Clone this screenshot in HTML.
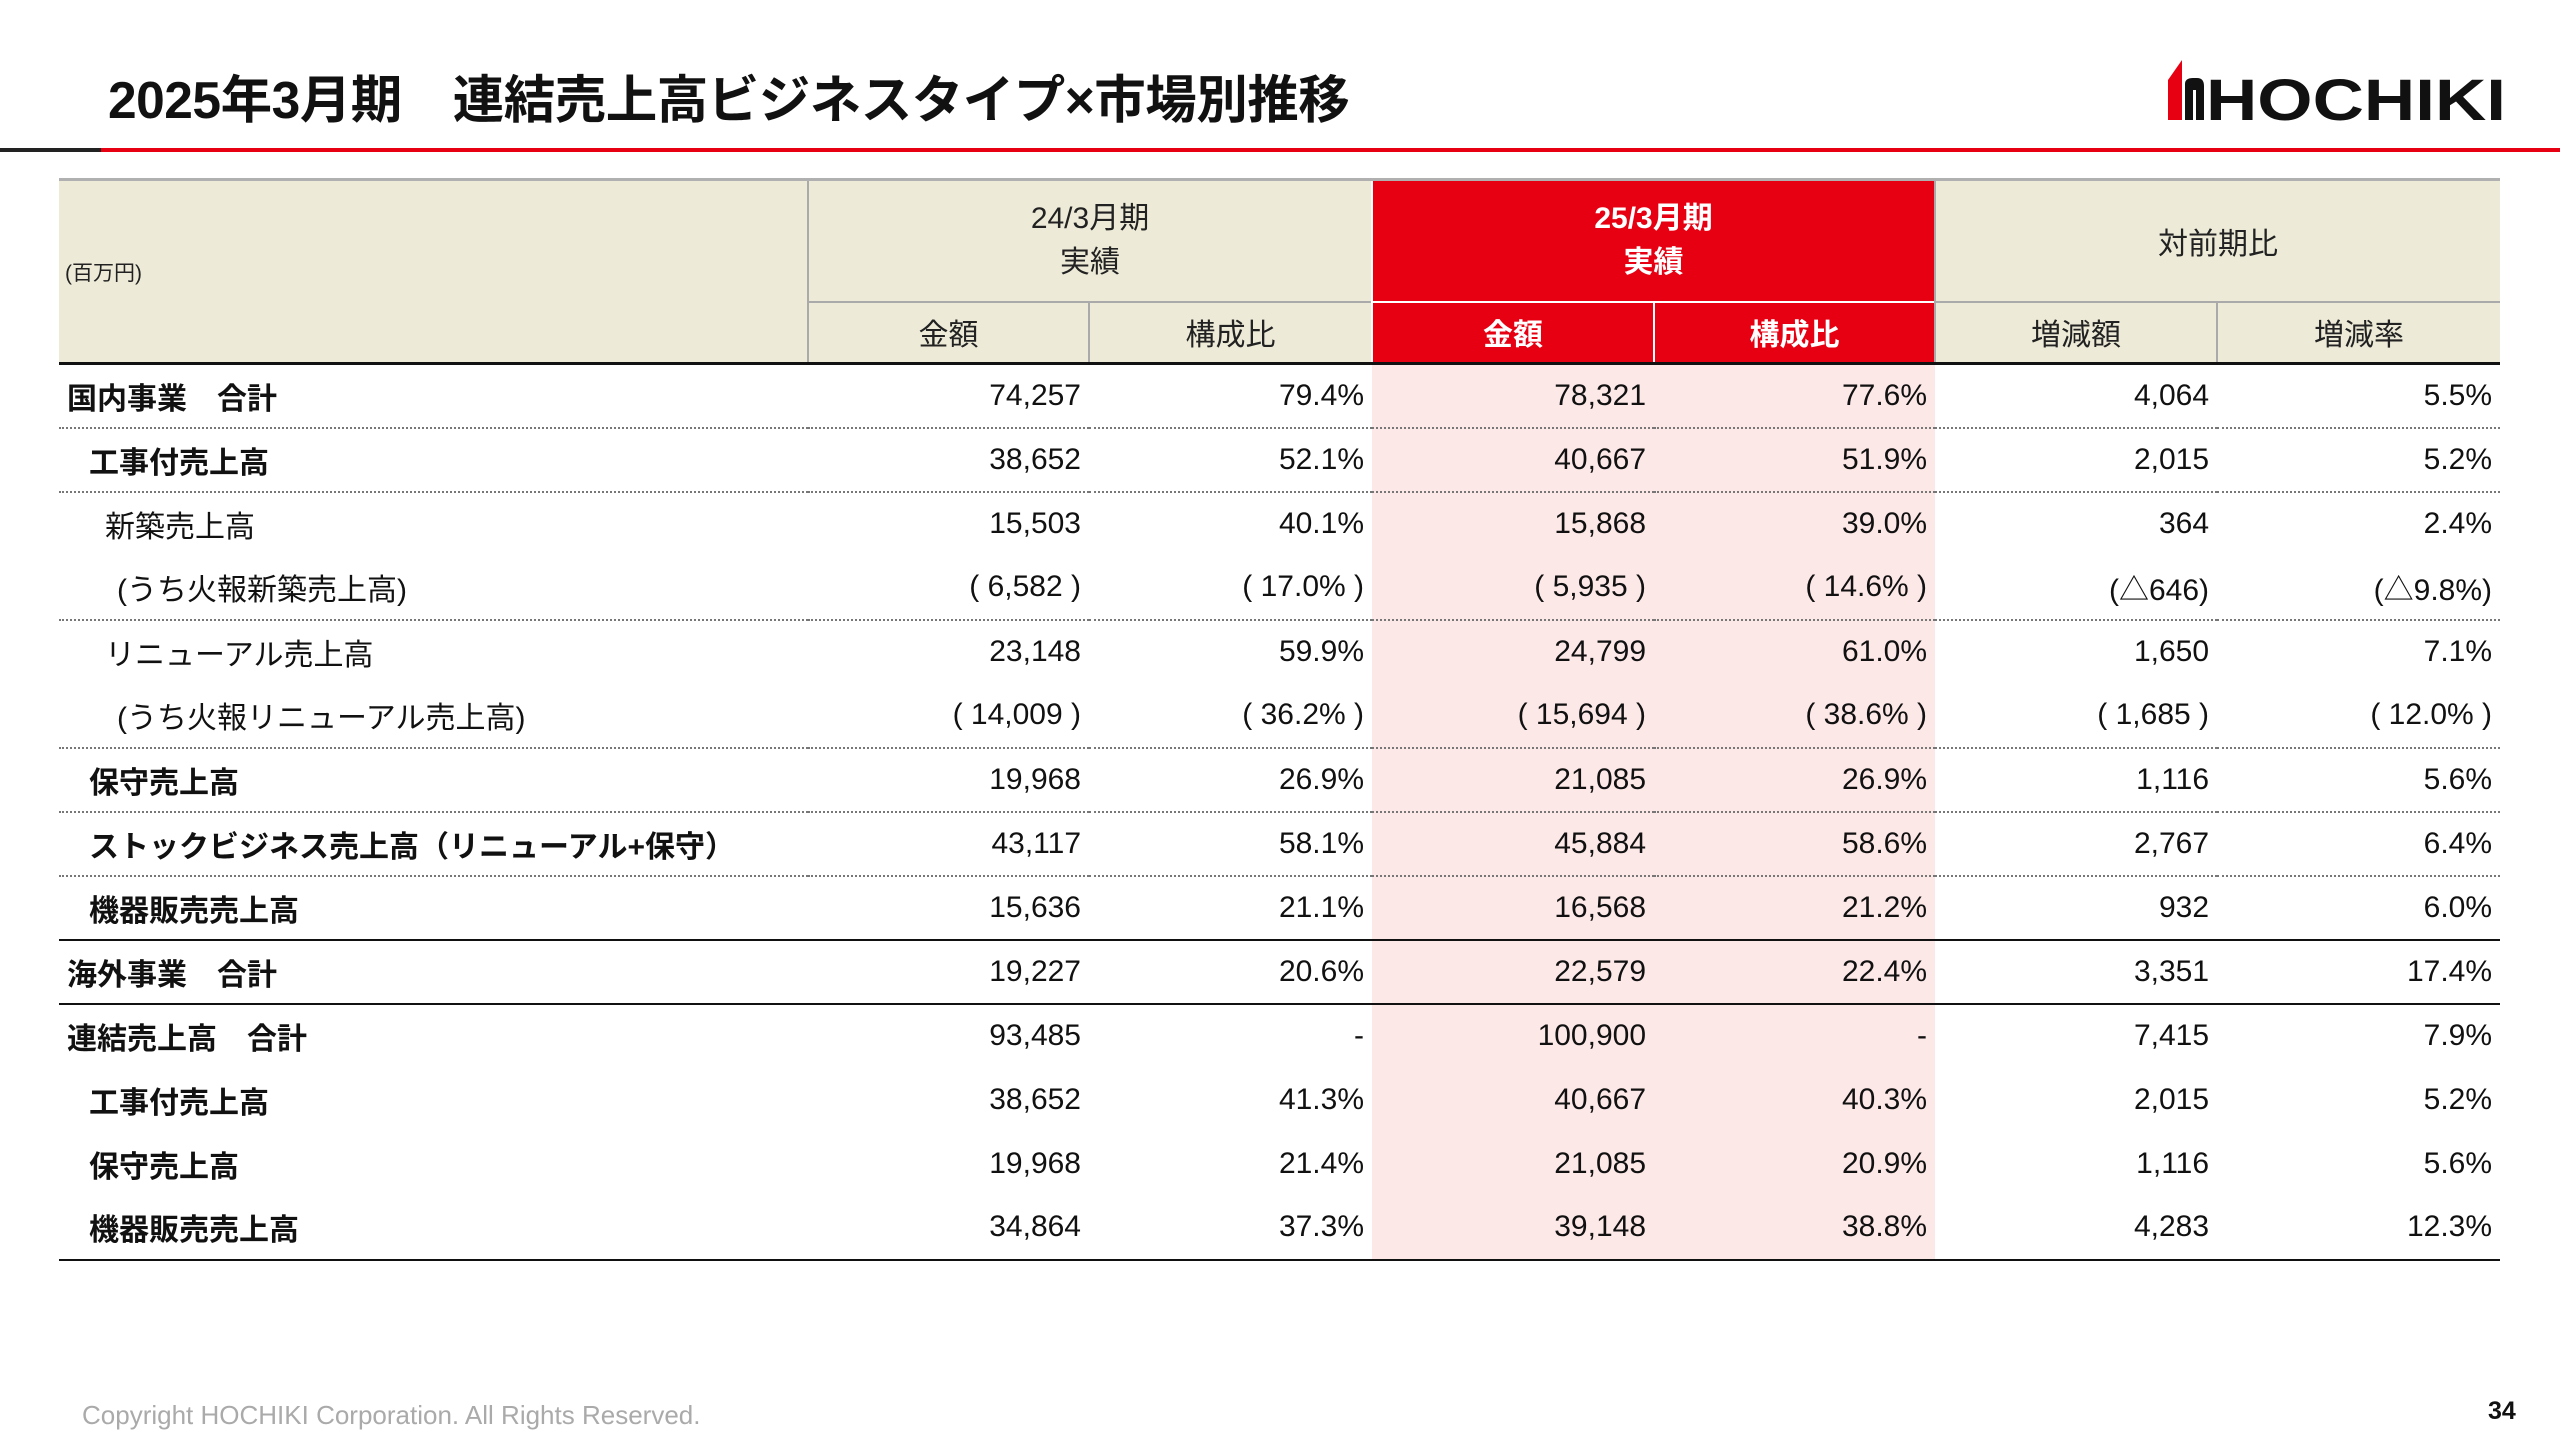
<!DOCTYPE html>
<html><head><meta charset="utf-8"><style>
*{margin:0;padding:0;box-sizing:border-box}
body{width:2560px;height:1440px;background:#fff;position:relative;overflow:hidden;font-family:"Liberation Sans","Noto Sans CJK JP",sans-serif;color:#111}
.title{position:absolute;left:108px;top:58px;font-size:51.5px;font-weight:bold;letter-spacing:-0.5px;white-space:nowrap}
.lb{position:absolute;left:0;top:148px;width:101px;height:4px;background:#222}
.lr{position:absolute;left:101px;top:148px;width:2459px;height:4px;background:#e60012}
table{position:absolute;left:59px;top:178px;border-collapse:collapse;table-layout:fixed;width:2441px}
td{font-size:30px;white-space:nowrap;padding:0 8px;height:64px;text-align:right}
.h td{background:#edebd8;text-align:center;border-left:2px solid #aaa;color:#222}
.h td.r{background:#e60012;color:#fff;font-weight:bold;border-left:2px solid #fff}
.h1 td{height:122px;border-top:3px solid #b0b0b0}
.h2 td{height:62px;border-top:2px solid #aaa;border-bottom:3px solid #111}
.h2 td.r{border-top:2px solid #fff}
td.l{text-align:left}
.b{font-weight:bold}
.p{background:#fde8e8}
tr.d td{border-bottom:2px dotted #777}
tr.s td{border-bottom:2px solid #111}
.copy{position:absolute;left:82px;top:1400px;font-size:26px;color:#aaa}
.pg{position:absolute;left:2488px;top:1397px;font-size:25px;font-weight:bold}
</style></head><body>
<div class="title">2025年3月期　連結売上高ビジネスタイプ×市場別推移</div>
<svg style="position:absolute;left:2166px;top:58px" width="344" height="64" viewBox="0 0 344 64">
<polygon points="2,62 2,22 16,2 16,62" fill="#e60012"/>
<path d="M19,62 L19,26 Q19,20 27,20 L31,20 Q38,20 38,28 L38,62 L30,62 L30,32 L27,32 L27,62 Z" fill="#111"/>
<text x="40" y="62" font-family="Liberation Sans,sans-serif" font-weight="bold" font-size="58" fill="#111" textLength="300" lengthAdjust="spacingAndGlyphs">HOCHIKI</text>
</svg>
<div class="lb"></div><div class="lr"></div>
<table>
<colgroup><col style="width:749px"><col style="width:281px"><col style="width:283px"><col style="width:282px"><col style="width:281px"><col style="width:282px"><col style="width:283px"></colgroup>
<tr class="h h1"><td rowspan="2" class="l" style="border-left:none;border-bottom:3px solid #111;font-size:21px;padding-left:6px">(百万円)</td><td colspan="2" style="line-height:44px">24/3月期<br>実績</td><td colspan="2" class="r" style="line-height:44px">25/3月期<br>実績</td><td colspan="2">対前期比</td></tr>
<tr class="h h2"><td>金額</td><td>構成比</td><td class="r">金額</td><td class="r">構成比</td><td>増減額</td><td>増減率</td></tr>
<tr class="d"><td class="l b" style="padding-left:8px">国内事業　合計</td><td>74,257</td><td>79.4%</td><td class="p">78,321</td><td class="p">77.6%</td><td>4,064</td><td>5.5%</td></tr>
<tr class="d"><td class="l b" style="padding-left:30px">工事付売上高</td><td>38,652</td><td>52.1%</td><td class="p">40,667</td><td class="p">51.9%</td><td>2,015</td><td>5.2%</td></tr>
<tr><td class="l" style="padding-left:46px">新築売上高</td><td>15,503</td><td>40.1%</td><td class="p">15,868</td><td class="p">39.0%</td><td>364</td><td>2.4%</td></tr>
<tr class="d"><td class="l" style="padding-left:58px">(うち火報新築売上高)</td><td>( 6,582 )</td><td>( 17.0% )</td><td class="p">( 5,935 )</td><td class="p">( 14.6% )</td><td>(△646)</td><td>(△9.8%)</td></tr>
<tr><td class="l" style="padding-left:46px">リニューアル売上高</td><td>23,148</td><td>59.9%</td><td class="p">24,799</td><td class="p">61.0%</td><td>1,650</td><td>7.1%</td></tr>
<tr class="d"><td class="l" style="padding-left:58px">(うち火報リニューアル売上高)</td><td>( 14,009 )</td><td>( 36.2% )</td><td class="p">( 15,694 )</td><td class="p">( 38.6% )</td><td>( 1,685 )</td><td>( 12.0% )</td></tr>
<tr class="d"><td class="l b" style="padding-left:30px">保守売上高</td><td>19,968</td><td>26.9%</td><td class="p">21,085</td><td class="p">26.9%</td><td>1,116</td><td>5.6%</td></tr>
<tr class="d"><td class="l b" style="padding-left:30px">ストックビジネス売上高（リニューアル+保守）</td><td>43,117</td><td>58.1%</td><td class="p">45,884</td><td class="p">58.6%</td><td>2,767</td><td>6.4%</td></tr>
<tr class="s"><td class="l b" style="padding-left:30px">機器販売売上高</td><td>15,636</td><td>21.1%</td><td class="p">16,568</td><td class="p">21.2%</td><td>932</td><td>6.0%</td></tr>
<tr class="s"><td class="l b" style="padding-left:8px">海外事業　合計</td><td>19,227</td><td>20.6%</td><td class="p">22,579</td><td class="p">22.4%</td><td>3,351</td><td>17.4%</td></tr>
<tr><td class="l b" style="padding-left:8px">連結売上高　合計</td><td>93,485</td><td>-</td><td class="p">100,900</td><td class="p">-</td><td>7,415</td><td>7.9%</td></tr>
<tr><td class="l b" style="padding-left:30px">工事付売上高</td><td>38,652</td><td>41.3%</td><td class="p">40,667</td><td class="p">40.3%</td><td>2,015</td><td>5.2%</td></tr>
<tr><td class="l b" style="padding-left:30px">保守売上高</td><td>19,968</td><td>21.4%</td><td class="p">21,085</td><td class="p">20.9%</td><td>1,116</td><td>5.6%</td></tr>
<tr class="s"><td class="l b" style="padding-left:30px">機器販売売上高</td><td>34,864</td><td>37.3%</td><td class="p">39,148</td><td class="p">38.8%</td><td>4,283</td><td>12.3%</td></tr>
</table>
<div class="copy">Copyright HOCHIKI Corporation. All Rights Reserved.</div>
<div class="pg">34</div>
</body></html>
